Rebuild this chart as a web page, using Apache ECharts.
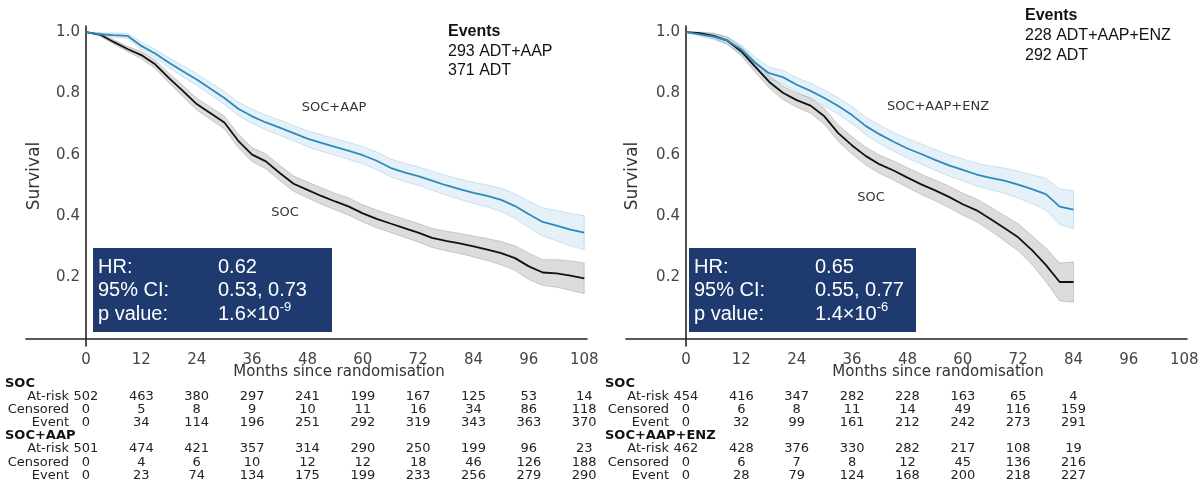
<!DOCTYPE html>
<html>
<head>
<meta charset="utf-8">
<script src="https://cdn.jsdelivr.net/npm/echarts@6/dist/echarts.min.js"></script>
<style>
  html, body { margin: 0; padding: 0; background: #fff; }
  #main { width: 1200px; height: 500px; }
</style>
</head>
<body>
<div id="main"></div>
<script>
const monthsL = [0, 3, 6, 9, 12, 15, 18, 21, 24, 27, 30, 33, 36, 39, 42, 45, 48, 51, 54, 57, 60, 63, 66, 69, 72, 75, 78, 81, 84, 87, 90, 93, 96, 99, 102, 105, 108]
const monthsR = [0, 3, 6, 9, 12, 15, 18, 21, 24, 27, 30, 33, 36, 39, 42, 45, 48, 51, 54, 57, 60, 63, 66, 69, 72, 75, 78, 81, 84]

// left panel: SOC vs SOC+AAP
const socL = [1.000, 0.992, 0.968, 0.945, 0.925, 0.895, 0.850, 0.808, 0.765, 0.735, 0.705, 0.645, 0.600, 0.578, 0.540, 0.505, 0.485, 0.465, 0.447, 0.430, 0.408, 0.390, 0.375, 0.360, 0.345, 0.328, 0.318, 0.310, 0.300, 0.290, 0.278, 0.262, 0.235, 0.215, 0.212, 0.205, 0.196]
const socLoL = [1.000, 0.987, 0.961, 0.937, 0.913, 0.881, 0.834, 0.790, 0.746, 0.715, 0.684, 0.623, 0.577, 0.554, 0.515, 0.480, 0.459, 0.438, 0.420, 0.402, 0.380, 0.361, 0.346, 0.330, 0.315, 0.297, 0.286, 0.277, 0.266, 0.254, 0.240, 0.222, 0.192, 0.173, 0.167, 0.157, 0.146]
const socHiL = [1.000, 0.997, 0.975, 0.953, 0.937, 0.909, 0.866, 0.826, 0.784, 0.755, 0.726, 0.667, 0.623, 0.602, 0.565, 0.530, 0.511, 0.492, 0.474, 0.458, 0.436, 0.419, 0.404, 0.390, 0.375, 0.359, 0.350, 0.343, 0.334, 0.326, 0.316, 0.302, 0.278, 0.257, 0.257, 0.253, 0.246]
const aap = [1.000, 0.993, 0.990, 0.988, 0.955, 0.930, 0.900, 0.872, 0.845, 0.815, 0.785, 0.750, 0.725, 0.705, 0.688, 0.670, 0.652, 0.638, 0.625, 0.612, 0.598, 0.580, 0.557, 0.542, 0.530, 0.515, 0.500, 0.487, 0.475, 0.465, 0.452, 0.432, 0.405, 0.380, 0.368, 0.355, 0.345]
const aapLo = [1.000, 0.988, 0.983, 0.980, 0.943, 0.916, 0.884, 0.854, 0.826, 0.795, 0.764, 0.728, 0.702, 0.681, 0.663, 0.645, 0.626, 0.611, 0.598, 0.584, 0.570, 0.551, 0.528, 0.512, 0.500, 0.484, 0.468, 0.454, 0.441, 0.429, 0.414, 0.392, 0.362, 0.334, 0.318, 0.302, 0.289]
const aapHi = [1.000, 0.998, 0.997, 0.996, 0.967, 0.944, 0.916, 0.890, 0.864, 0.835, 0.806, 0.772, 0.748, 0.729, 0.713, 0.695, 0.678, 0.665, 0.652, 0.640, 0.626, 0.609, 0.586, 0.572, 0.560, 0.546, 0.532, 0.520, 0.509, 0.501, 0.490, 0.472, 0.448, 0.426, 0.418, 0.408, 0.401]

// right panel: SOC vs SOC+AAP+ENZ
const socR = [1.000, 0.997, 0.988, 0.972, 0.937, 0.887, 0.838, 0.802, 0.778, 0.760, 0.725, 0.670, 0.630, 0.595, 0.568, 0.548, 0.525, 0.503, 0.483, 0.462, 0.438, 0.418, 0.390, 0.360, 0.330, 0.288, 0.240, 0.184, 0.184]
const socLoR = [1.000, 0.991, 0.979, 0.960, 0.922, 0.869, 0.818, 0.780, 0.755, 0.735, 0.699, 0.643, 0.602, 0.566, 0.538, 0.517, 0.493, 0.470, 0.449, 0.427, 0.402, 0.381, 0.351, 0.319, 0.286, 0.241, 0.185, 0.122, 0.118]
const socHiR = [1.000, 1.000, 0.997, 0.984, 0.952, 0.905, 0.858, 0.824, 0.801, 0.785, 0.751, 0.697, 0.658, 0.624, 0.598, 0.579, 0.557, 0.536, 0.517, 0.497, 0.474, 0.455, 0.429, 0.401, 0.374, 0.335, 0.295, 0.246, 0.250]
const enz = [1.000, 0.993, 0.985, 0.972, 0.943, 0.900, 0.866, 0.853, 0.828, 0.808, 0.785, 0.759, 0.729, 0.693, 0.666, 0.642, 0.620, 0.602, 0.583, 0.565, 0.550, 0.535, 0.524, 0.515, 0.502, 0.487, 0.471, 0.430, 0.420]
const enzLo = [1.000, 0.987, 0.976, 0.960, 0.928, 0.882, 0.846, 0.831, 0.805, 0.783, 0.759, 0.732, 0.701, 0.664, 0.636, 0.611, 0.588, 0.569, 0.549, 0.530, 0.514, 0.498, 0.485, 0.474, 0.458, 0.440, 0.419, 0.372, 0.358]
const enzHi = [1.000, 0.999, 0.994, 0.984, 0.958, 0.918, 0.886, 0.875, 0.851, 0.833, 0.811, 0.786, 0.757, 0.722, 0.696, 0.673, 0.652, 0.635, 0.617, 0.600, 0.586, 0.572, 0.563, 0.556, 0.546, 0.534, 0.523, 0.488, 0.482]

// tick labels
const xTicks = [0, 12, 24, 36, 48, 60, 72, 84, 96, 108]
const yTicks = [0.2, 0.4, 0.6, 0.8, 1.0]

// numbers at risk tables
const tableMonthsL = [0, 12, 24, 36, 48, 60, 72, 84, 96, 108]
const socRiskL = [502, 463, 380, 297, 241, 199, 167, 125, 53, 14]
const socCensL = [0, 5, 8, 9, 10, 11, 16, 34, 86, 118]
const socEventL = [0, 34, 114, 196, 251, 292, 319, 343, 363, 370]
const aapRisk = [501, 474, 421, 357, 314, 290, 250, 199, 96, 23]
const aapCens = [0, 4, 6, 10, 12, 12, 18, 46, 126, 188]
const aapEvent = [0, 23, 74, 134, 175, 199, 233, 256, 279, 290]
const tableMonthsR = [0, 12, 24, 36, 48, 60, 72, 84]
const socRiskR = [454, 416, 347, 282, 228, 163, 65, 4]
const socCensR = [0, 6, 8, 11, 14, 49, 116, 159]
const socEventR = [0, 32, 99, 161, 212, 242, 273, 291]
const enzRisk = [462, 428, 376, 330, 282, 217, 108, 19]
const enzCens = [0, 6, 7, 8, 12, 45, 136, 216]
const enzEvent = [0, 28, 79, 124, 168, 200, 218, 227]

const BLUE = '#2f89b9'
const AXIS_FONT = 'DejaVu Sans'
const BOX_FONT = 'Liberation Sans'
// x axis starts a bit left of month 0, the y axis sits at month 0
const X_MIN = -13, X_MAX = 108.6, GRID_W = 561
const Y_SHIFT = -13 * GRID_W / (X_MAX - X_MIN)

let chart = echarts.init(document.getElementById('main'))

function xAxisOf(gridIndex) {
  return {
    type: 'value',
    gridIndex: gridIndex,
    min: X_MIN,
    max: X_MAX,
    axisLine: { onZero: true, lineStyle: { color: '#222', width: 1.6 } },
    axisTick: { show: false },
    splitLine: { show: false },
    axisLabel: {
      customValues: xTicks,
      color: '#444',
      fontSize: 15,
      fontFamily: AXIS_FONT,
      margin: 7
    }
  }
}

function yAxisOf(gridIndex) {
  return {
    type: 'value',
    gridIndex: gridIndex,
    min: -0.025,
    max: 1.02,
    offset: Y_SHIFT,
    axisLine: { show: true, onZero: false, lineStyle: { color: '#222', width: 1.6 } },
    axisTick: { show: false },
    splitLine: { show: false },
    axisLabel: {
      customValues: yTicks,
      color: '#444',
      fontSize: 15,
      fontFamily: AXIS_FONT,
      margin: 6,
      formatter: v => v.toFixed(1)
    }
  }
}

function band(idx, months, lo, hi, fill, stroke) {
  return {
    type: 'custom',
    xAxisIndex: idx,
    yAxisIndex: idx,
    silent: true,
    z: 1,
    data: [[0, 1]],
    renderItem(params, api) {
      let pts = []
      months.forEach((m, i) => pts.push(api.coord([m, hi[i]])))
      for (let i = months.length - 1; i >= 0; i--) pts.push(api.coord([months[i], lo[i]]))
      return {
        type: 'polygon',
        shape: { points: pts },
        style: { fill: fill, stroke: stroke, lineWidth: 1 }
      }
    }
  }
}

function curve(idx, months, surv, color) {
  return {
    type: 'line',
    xAxisIndex: idx,
    yAxisIndex: idx,
    silent: true,
    z: 3,
    showSymbol: false,
    symbol: 'none',
    data: months.map((m, i) => [m, surv[i]]),
    lineStyle: { color: color, width: 1.8 }
  }
}

let option = {
  backgroundColor: '#fff',
  animation: false,
  grid: [
    { left: 26, top: 26, width: GRID_W, height: 320, outerBoundsMode: 'none' },
    { left: 626, top: 26, width: GRID_W, height: 320, outerBoundsMode: 'none' }
  ],
  xAxis: [xAxisOf(0), xAxisOf(1)],
  yAxis: [yAxisOf(0), yAxisOf(1)],
  series: [
    band(0, monthsL, socLoL, socHiL, 'rgba(140,140,140,0.30)', 'rgba(120,120,120,0.32)'),
    band(0, monthsL, aapLo, aapHi, 'rgba(150,200,230,0.26)', 'rgba(120,175,210,0.32)'),
    curve(0, monthsL, socL, '#111'),
    curve(0, monthsL, aap, BLUE),
    band(1, monthsR, socLoR, socHiR, 'rgba(140,140,140,0.30)', 'rgba(120,120,120,0.32)'),
    band(1, monthsR, enzLo, enzHi, 'rgba(150,200,230,0.26)', 'rgba(120,175,210,0.32)'),
    curve(1, monthsR, socR, '#111'),
    curve(1, monthsR, enz, BLUE)
  ]
}
chart.setOption(option)

// ---- text overlays ----
let g = []

function txt(x, y, text, opt) {
  opt = opt || {}
  g.push({
    type: 'text',
    x: x,
    y: y,
    rotation: opt.rotation || 0,
    silent: true,
    z: 10,
    style: Object.assign({
      text: text,
      fill: opt.color || '#222',
      fontSize: opt.size || 13,
      fontFamily: opt.family || AXIS_FONT,
      fontWeight: opt.weight || 'normal',
      align: opt.align || 'left',
      textAlign: opt.align || 'left',
      verticalAlign: 'middle',
      textVerticalAlign: 'middle'
    }, opt.extra || {})
  })
}

// axis names
txt(339, 372, 'Months since randomisation', { size: 15, align: 'center', color: '#333' })
txt(938, 372, 'Months since randomisation', { size: 15, align: 'center', color: '#333' })
txt(35, 176, 'Survival', { size: 17, align: 'center', color: '#333', rotation: Math.PI / 2 })
txt(633, 176, 'Survival', { size: 17, align: 'center', color: '#333', rotation: Math.PI / 2 })

// curve labels
txt(334, 108, 'SOC+AAP', { size: 13, align: 'center', color: '#333' })
txt(285, 213, 'SOC', { size: 13, align: 'center', color: '#333' })
txt(938, 107, 'SOC+AAP+ENZ', { size: 13, align: 'center', color: '#333' })
txt(871, 198, 'SOC', { size: 13, align: 'center', color: '#333' })

// events
txt(448, 32, 'Events', { size: 16, family: BOX_FONT, weight: 'bold', color: '#111' })
txt(448, 52, '293 ADT+AAP', { size: 16, family: BOX_FONT, color: '#111' })
txt(448, 71, '371 ADT', { size: 16, family: BOX_FONT, color: '#111' })
txt(1025, 16, 'Events', { size: 16, family: BOX_FONT, weight: 'bold', color: '#111' })
txt(1025, 36, '228 ADT+AAP+ENZ', { size: 16, family: BOX_FONT, color: '#111' })
txt(1025, 56, '292 ADT', { size: 16, family: BOX_FONT, color: '#111' })

// HR boxes
function hrBox(x, w, valX, hr, ci, pMain, pExp) {
  g.push({
    type: 'rect', silent: true, z: 5,
    shape: { x: x, y: 248, width: w, height: 84 },
    style: { fill: '#1f3a6e' }
  })
  let o = { size: 20, family: BOX_FONT, color: '#fff' }
  txt(x + 5, 267, 'HR:', o)
  txt(valX, 267, hr, o)
  txt(x + 5, 290.5, '95% CI:', o)
  txt(valX, 290.5, ci, o)
  txt(x + 5, 314, 'p value:', o)
  txt(valX, 314, pMain + '{sup|' + pExp + '}', Object.assign({}, o, {
    extra: {
      lineHeight: 26,
      rich: {
        sup: { fontSize: 13, lineHeight: 14, verticalAlign: 'top', fill: '#fff', fontFamily: BOX_FONT }
      }
    }
  }))
}
hrBox(93, 239, 218, '0.62', '0.53, 0.73', '1.6×10', '-9')
hrBox(689, 227, 815, '0.65', '0.55, 0.77', '1.4×10', '-6')

// numbers at risk
const rowY = [384, 397, 410, 423, 436, 449, 463, 476]
function riskTable(idx, left, labelRight, months, groups) {
  let xs = months.map(m => chart.convertToPixel({ xAxisIndex: idx }, m))
  let r = 0
  groups.forEach(gr => {
    txt(left, rowY[r++], gr.name, { size: 13, weight: 'bold', color: '#111' })
    ;[['At-risk', gr.risk], ['Censored', gr.cens], ['Event', gr.event]].forEach(row => {
      txt(labelRight, rowY[r], row[0], { size: 13, align: 'right', color: '#222' })
      row[1].forEach((v, i) => txt(xs[i], rowY[r], String(v), { size: 13, align: 'center', color: '#222' }))
      r++
    })
  })
}
riskTable(0, 5, 69, tableMonthsL, [
  { name: 'SOC', risk: socRiskL, cens: socCensL, event: socEventL },
  { name: 'SOC+AAP', risk: aapRisk, cens: aapCens, event: aapEvent }
])
riskTable(1, 605, 669, tableMonthsR, [
  { name: 'SOC', risk: socRiskR, cens: socCensR, event: socEventR },
  { name: 'SOC+AAP+ENZ', risk: enzRisk, cens: enzCens, event: enzEvent }
])

chart.setOption({ graphic: g })
</script>
</body>
</html>
